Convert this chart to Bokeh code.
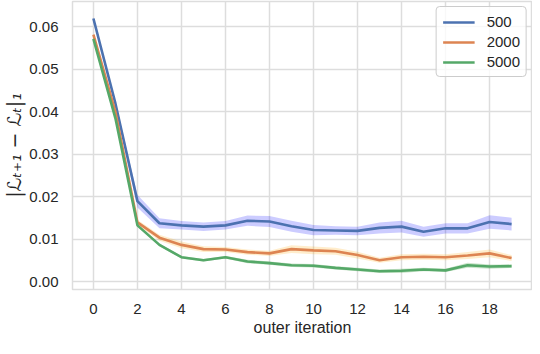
from bokeh.plotting import figure
from bokeh.models import Range1d, FixedTicker, NumeralTickFormatter, Legend, LegendItem
from bokeh.embed import file_html
from bokeh.resources import INLINE

iters = list(range(20))
labels = ["500", "2000", "5000"]
mean_500 = [0.0620, 0.0420, 0.0190, 0.0138, 0.0133, 0.0130, 0.0133, 0.0144, 0.0142, 0.0131,
            0.0122, 0.0121, 0.0120, 0.0127, 0.0130, 0.0118, 0.0126, 0.0126, 0.0141, 0.0136]
err_500 = [0.0003, 0.0005, 0.0015, 0.0012, 0.0010, 0.0010, 0.0010, 0.0012, 0.0013, 0.0013,
           0.0012, 0.0010, 0.0010, 0.0013, 0.0014, 0.0012, 0.0012, 0.0012, 0.0016, 0.0015]
mean_2000 = [0.0582, 0.0400, 0.0140, 0.0104, 0.0087, 0.0077, 0.0076, 0.0070, 0.0067, 0.0077,
             0.0074, 0.0072, 0.0063, 0.0051, 0.0058, 0.0059, 0.0058, 0.0062, 0.0067, 0.0056]
err_2000 = [0.0002, 0.0003, 0.0006, 0.0007, 0.0008, 0.0007, 0.0006, 0.0006, 0.0006, 0.0009,
            0.0009, 0.0008, 0.0008, 0.0006, 0.0007, 0.0007, 0.0007, 0.0008, 0.0009, 0.0007]
mean_5000 = [0.0572, 0.0385, 0.0133, 0.0087, 0.0058, 0.0051, 0.0058, 0.0048, 0.0044, 0.0039,
             0.0038, 0.0033, 0.0029, 0.0025, 0.0026, 0.0029, 0.0027, 0.0039, 0.0036, 0.0037]
err_5000 = [0.0001, 0.0002, 0.0003, 0.0003, 0.0003, 0.0003, 0.0003, 0.0004, 0.0004, 0.0004,
            0.0004, 0.0004, 0.0004, 0.0004, 0.0005, 0.0004, 0.0004, 0.0006, 0.0005, 0.0004]
x_ticks = [0, 2, 4, 6, 8, 10, 12, 14, 16, 18]
y_ticks = [0.0, 0.01, 0.02, 0.03, 0.04, 0.05, 0.06]

line_colors = ["#4c72b0", "#dd8452", "#55a868"]
band_colors = ["blue", "orange", "green"]
FONT = "Liberation Sans"
GRID = "#dddddd"

p = figure(width=532, height=338, output_backend="svg", toolbar_location=None,
           x_range=Range1d(-0.95, 19.95), y_range=Range1d(-0.0018, 0.0660),
           min_border_left=56, min_border_right=0, min_border_top=1, min_border_bottom=40)

p.outline_line_color = GRID
p.outline_line_width = 1.5
p.background_fill_color = "white"
p.border_fill_color = "white"

for ax in (p.xaxis[0], p.yaxis[0]):
    ax.axis_line_color = None
    ax.major_tick_line_color = None
    ax.minor_tick_line_color = None
    ax.major_label_text_font = FONT
    ax.major_label_text_font_size = "15px"
    ax.major_label_text_color = "#262626"
    ax.axis_label_text_font = FONT
    ax.axis_label_text_font_size = "16px"
    ax.axis_label_text_font_style = "normal"
    ax.axis_label_text_color = "#262626"

p.xaxis.ticker = FixedTicker(ticks=x_ticks)
p.yaxis.ticker = FixedTicker(ticks=y_ticks)
p.yaxis.formatter = NumeralTickFormatter(format="0.00")
p.xaxis.axis_label = "outer iteration"
p.yaxis.axis_label = "|\u2112\u209c\u208a\u2081 \u2212 \u2112\u209c|\u2081"
p.yaxis.axis_label_text_font = "DejaVu Sans"
p.yaxis.axis_label_text_font_style = "italic"
p.yaxis.axis_label_text_font_size = "19px"
p.xaxis.major_label_standoff = 8
p.yaxis.major_label_standoff = 8
p.xaxis.axis_label_standoff = 2
p.yaxis.axis_label_standoff = 1

p.xgrid.grid_line_color = GRID
p.ygrid.grid_line_color = GRID
p.xgrid.grid_line_width = 1.5
p.ygrid.grid_line_width = 1.5

series = [(mean_500, err_500), (mean_2000, err_2000), (mean_5000, err_5000)]
items = []
for (m, e), lc, bc, lab in zip(series, line_colors, band_colors, labels):
    lo = [a - b for a, b in zip(m, e)]
    hi = [a + b for a, b in zip(m, e)]
    p.varea(x=iters, y1=lo, y2=hi, fill_color=bc, fill_alpha=0.2)
    r = p.line(iters, m, line_color=lc, line_width=2.6)
    items.append(LegendItem(label=lab, renderers=[r]))

legend = Legend(items=items, location="top_right")
legend.label_text_font = FONT
legend.label_text_font_size = "15px"
legend.label_text_color = "#262626"
legend.glyph_width = 32
legend.glyph_height = 14
legend.label_standoff = 12
legend.spacing = 3
legend.padding = 6
legend.margin = 5
legend.border_line_color = "#cccccc"
legend.border_line_alpha = 1.0
legend.border_radius = 4
legend.background_fill_alpha = 0.8
p.add_layout(legend)

open("out.html", "w").write(file_html(p, INLINE))
